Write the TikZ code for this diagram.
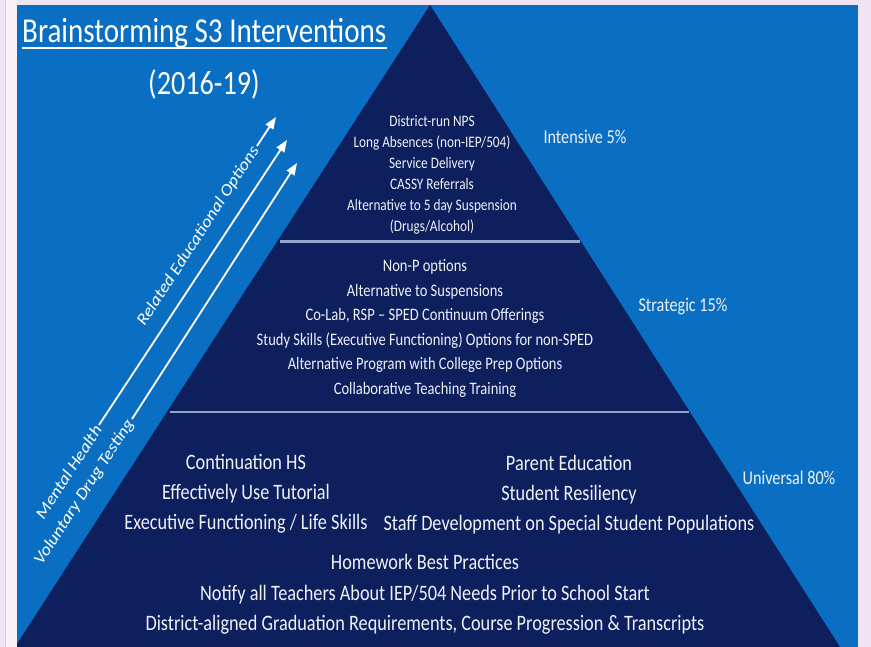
\documentclass[tikz,border=0pt]{standalone}
\usepackage{fontspec}
\setmainfont{Carlito}[FakeStretch=0.83]
\newfontfamily\handfont{Carlito}[FakeStretch=1.12]
\usetikzlibrary{arrows.meta,calc}

\definecolor{pagebg}{HTML}{F0E4F4}
\definecolor{pagestrip}{HTML}{F8F1FA}
\definecolor{pageline}{HTML}{DCC4E6}
\definecolor{panelblue}{HTML}{0A6FC2}
\definecolor{navy}{HTML}{0D1F5D}
\definecolor{divcol}{HTML}{95A3CF}
\definecolor{softwhite}{HTML}{EEF1F8}

\begin{document}
\begin{tikzpicture}[x=1pt,y=-1pt,
  tiertext/.style={text=softwhite, align=center, inner sep=0pt},
  tierlabel/.style={text=softwhite, font=\fontsize{19.5}{22}\selectfont, inner sep=0pt},
  handlabel/.style={text=white, font=\handfont\itshape\fontsize{16.5}{18}\selectfont,
                    rotate=57, inner sep=2pt, anchor=east},
  flowarrow/.style={draw=white, line width=1.8pt, -{Triangle[length=12pt,width=9pt]}},
  divider/.style={draw=divcol, line width=2.5pt}]

\useasboundingbox (0,0) rectangle (871,647);

% page and slide panel
\fill[pagebg] (0,0) rectangle (871,647);
\fill[pagestrip] (6,0) rectangle (17,647);
\draw[pageline, line width=1pt] (5.5,0) -- (5.5,647);
\fill[panelblue] (17,5) rectangle (858,647);

% pyramid
\coordinate (apex) at (430,5);
\coordinate (bl) at (15,647);
\coordinate (br) at (840,647);
\begin{scope}
  \clip (17,5) rectangle (858,647);
  \fill[navy] (apex) -- (br) -- (bl) -- cycle;
\end{scope}

% tier dividers
\coordinate (d1l) at ($(apex)!0.368!(bl)$);
\coordinate (d1r) at ($(apex)!0.368!(br)$);
\coordinate (d2l) at ($(apex)!0.634!(bl)$);
\coordinate (d2r) at ($(apex)!0.634!(br)$);
\draw[divider] ($(d1l)+(3,0)$) -- ($(d1r)+(-1,0)$);
\draw[divider] ($(d2l)+(3,0)$) -- ($(d2r)+(-1,0)$);

% title
\node[anchor=base west, text=white, font=\fontsize{35}{40}\selectfont, inner sep=0pt]
  (title) at (22,43) {Brainstorming S3 Interventions};
\draw[white, line width=1.8pt] ($(title.base west)+(0,5)$) -- ($(title.base east)+(0,5)$);
\node[anchor=base, text=white, font=\fontsize{34}{40}\selectfont, inner sep=0pt]
  (years) at (204,95) {(2016-19)};

% tier contents
\node[tiertext, font=\fontsize{16}{21}\selectfont] (intensive) at (432,175)
  {District-run NPS\\Long Absences (non-IEP/504)\\Service Delivery\\CASSY Referrals\\%
   Alternative to 5 day Suspension\\(Drugs/Alcohol)};
\node[tiertext, font=\fontsize{17.5}{24.6}\selectfont] (strategic) at (425,328.5)
  {Non-P options\\Alternative to Suspensions\\Co-Lab, RSP – SPED Continuum Offerings\\%
   Study Skills (Executive Functioning) Options for non-SPED\\%
   Alternative Program with College Prep Options\\Collaborative Teaching Training};
\node[tiertext, font=\fontsize{22}{30}\selectfont] (univleft) at (246,494)
  {Continuation HS\\Effectively Use Tutorial\\Executive Functioning / Life Skills};
\node[tiertext, font=\fontsize{22}{30}\selectfont] (univright) at (569,494.5)
  {Parent Education\\Student Resiliency\\Staff Development on Special Student Populations};
\node[tiertext, font=\fontsize{22}{30.5}\selectfont] (univbottom) at (425,594.5)
  {Homework Best Practices\\Notify all Teachers About IEP/504 Needs Prior to School Start\\%
   District-aligned Graduation Requirements, Course Progression \& Transcripts};

% tier names
\node[tierlabel] (lblintensive) at (585,137) {Intensive 5\%};
\node[tierlabel] (lblstrategic) at (683,306) {Strategic 15\%};
\node[tierlabel] (lbluniversal) at (789,478) {Universal 80\%};

% rising arrows
\coordinate (tipA) at (276,117);
\coordinate (tipB) at (287,140);
\coordinate (tipC) at (297,163);
\node[handlabel] (related) at (257,146) {Related Educational Options};
\node[handlabel] (mental) at (99,425) {Mental Health};
\node[handlabel] (drug) at (132,419) {Voluntary Drug Testing};
\draw[flowarrow] (related.east) -- (tipA);
\draw[flowarrow] (mental.east) -- (tipB);
\draw[flowarrow] (drug.east) -- (tipC);

\end{tikzpicture}
\end{document}
